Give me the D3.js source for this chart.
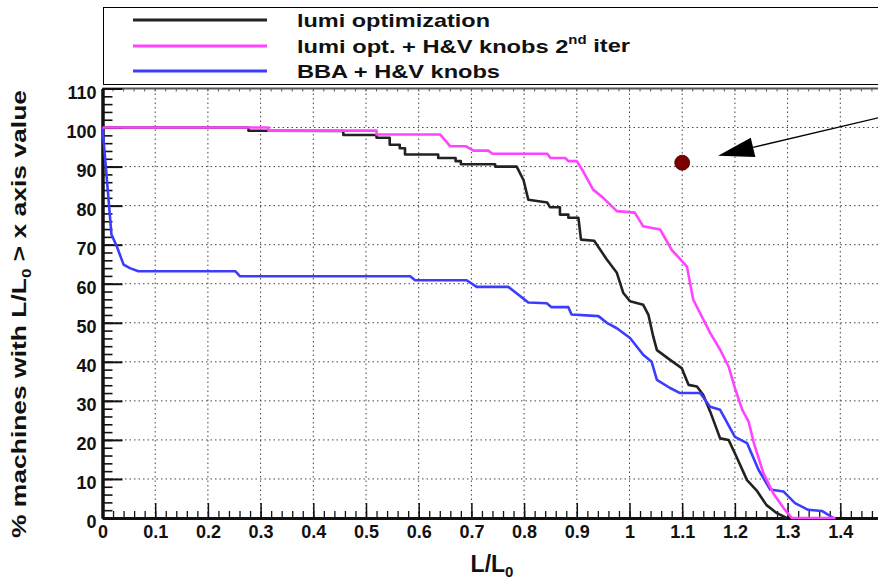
<!DOCTYPE html>
<html>
<head>
<meta charset="utf-8">
<script src="https://cdn.jsdelivr.net/npm/d3@7"></script>
<style>
  body { margin: 0; background: #fff; }
  #plot { width: 878px; height: 583px; overflow: hidden; }
  text { font-family: "Liberation Sans", Arial, sans-serif; font-weight: bold; fill: #111; }
</style>
</head>
<body>
<div id="plot"></div>
<script>
// series: [L/L0, % machines]
const lumiOpt = [
  [0,100],[0.277,100],[0.277,99.2],[0.457,99.1],[0.457,98.1],[0.52,98.1],[0.52,97.4],
  [0.545,97.4],[0.545,95.6],[0.564,95.6],[0.564,94.7],[0.574,94.7],[0.574,93.1],
  [0.637,93.1],[0.637,92.2],[0.67,92.2],[0.67,91.4],[0.68,91.4],[0.68,90.6],
  [0.745,90.6],[0.745,90],[0.786,90],[0.799,86.5],[0.808,81.5],[0.844,80.8],
  [0.849,79.6],[0.868,79.6],[0.868,77.7],[0.884,77.7],[0.884,76.9],[0.903,76.9],
  [0.908,71.3],[0.933,71],[0.957,66.2],[0.976,62.8],[0.988,57.7],[1.001,55.5],
  [1.026,54.6],[1.036,52],[1.045,46.5],[1.052,43],[1.077,40.5],[1.099,38.4],
  [1.112,34.1],[1.128,33.7],[1.14,31.5],[1.153,27.3],[1.172,20.4],[1.188,20],
  [1.203,15.7],[1.223,9.7],[1.241,7.1],[1.26,3.3],[1.279,1.3],[1.298,0]
];
const lumiOptHV = [
  [0,100],[0.315,100],[0.315,99.2],[0.52,99.2],[0.52,98.2],[0.641,98.2],[0.66,95.2],
  [0.69,95.2],[0.704,94.1],[0.732,94.1],[0.74,93.3],[0.844,93.3],[0.85,92.2],
  [0.878,92.2],[0.884,91.4],[0.9,91.4],[0.912,88.8],[0.931,84.1],[0.95,82],
  [0.976,78.6],[1.01,78.2],[1.026,74.7],[1.058,73.9],[1.08,68.7],[1.109,64.4],
  [1.121,55.9],[1.153,47.4],[1.172,43.1],[1.188,38.8],[1.2,33.3],[1.214,27.7],
  [1.226,24.7],[1.236,19.2],[1.254,11.5],[1.273,6.3],[1.292,2.6],[1.308,0],[1.391,0]
];
const bbaHV = [
  [0,100],[0.011,82.4],[0.017,72.6],[0.027,69.6],[0.04,64.9],[0.052,64],[0.068,63.2],
  [0.252,63.2],[0.261,61.9],[0.584,61.9],[0.593,60.9],[0.691,60.9],[0.71,59.2],
  [0.77,59.2],[0.808,55.2],[0.843,55],[0.852,54],[0.884,54],[0.89,52.1],[0.941,51.7],
  [0.957,50],[0.976,48.6],[1.001,46.1],[1.026,41.8],[1.042,40],[1.052,35.4],
  [1.077,33.3],[1.096,32],[1.134,32],[1.153,28.5],[1.172,27.7],[1.2,20.8],
  [1.223,19.2],[1.245,12.3],[1.267,7.3],[1.292,6.8],[1.314,3.8],[1.339,2.1],
  [1.365,1.8],[1.387,0]
];

const xTickValues = [0,0.1,0.2,0.3,0.4,0.5,0.6,0.7,0.8,0.9,1,1.1,1.2,1.3,1.4];
const xTickLabels = ["0","0.1","0.2","0.3","0.4","0.5","0.6","0.7","0.8","0.9","1","1.1","1.2","1.3","1.4"];
const yTickValues = [0,10,20,30,40,50,60,70,80,90,100,110];
const yTickLabels = ["0","10","20","30","40","50","60","70","80","90","100","110"];

const legendNames = ["lumi optimization", "lumi opt. + H&V knobs 2", "BBA + H&V knobs"];
const legendColors = ["#222222", "#ff44ff", "#3c3cff"];

// annotation: the marked point and the arrow pointing at it
const markedPoint = [1.1, 91];
const arrowFrom = [1.475, 102.6];
const arrowTo = [1.168, 92.8];

window.addEventListener("load", main)

function main(){

  const width = 878, height = 583;
  const svg = d3.select("#plot").append("svg")
    .attr("width", width)
    .attr("height", height);

  // scales (plot runs past the right edge, like the original crop)
  const x = d3.scaleLinear().domain([0, 1.5]).range([102.5, 102.5 + 1.5 * 527]);
  const y = d3.scaleLinear().domain([0, 110]).range([518, 88.5]);

  // dotted grid
  const grid = svg.append("g").attr("id", "grid")
    .attr("stroke", "#444").attr("stroke-width", 1).attr("stroke-dasharray", "1.5,3");
  grid.selectAll("line.v")
    .data(d3.range(1, 15).map(i => i / 10))
    .join("line").attr("class", "v")
      .attr("x1", d => x(d)).attr("x2", d => x(d))
      .attr("y1", y(0)).attr("y2", y(110));
  grid.selectAll("line.h")
    .data(yTickValues.slice(1, -1))
    .join("line").attr("class", "h")
      .attr("x1", x(0)).attr("x2", x(1.5))
      .attr("y1", d => y(d)).attr("y2", d => y(d));

  // top frame with small ticks
  svg.append("line")
    .attr("x1", x(0)).attr("x2", x(1.5)).attr("y1", y(110)).attr("y2", y(110))
    .attr("stroke", "#555").attr("stroke-width", 2);
  svg.append("g").selectAll("line")
    .data(d3.range(0, 76).map(i => i * 0.02))
    .join("line")
      .attr("x1", d => x(d)).attr("x2", d => x(d))
      .attr("y1", y(110)).attr("y2", y(110) + 3)
      .attr("stroke", "#555");

  // minor ticks
  svg.append("g")
    .attr("transform", `translate(0,${y(0)})`)
    .call(d3.axisBottom(x).tickValues(d3.range(0, 76).map(i => i * 0.02)).tickSize(-7).tickFormat(""))
    .call(g => g.select(".domain").remove())
    .selectAll("line").attr("stroke", "#111").attr("stroke-width", 1.3);
  svg.append("g")
    .attr("transform", `translate(${x(0)},0)`)
    .call(d3.axisLeft(y).tickValues(d3.range(0, 56).map(i => i * 2)).tickSize(-10).tickFormat(""))
    .call(g => g.select(".domain").remove())
    .selectAll("line").attr("stroke", "#111").attr("stroke-width", 1.6);

  // major ticks + labels
  const xAxis = svg.append("g")
    .attr("transform", `translate(0,${y(0)})`)
    .call(d3.axisBottom(x).tickValues(xTickValues).tickSize(-15).tickSizeOuter(0).tickPadding(7)
      .tickFormat((d, i) => xTickLabels[i]));
  xAxis.select(".domain").attr("stroke", "#111").attr("stroke-width", 3);
  xAxis.selectAll("line").attr("stroke", "#111").attr("stroke-width", 1.5);
  xAxis.selectAll("text").attr("font-size", 18).attr("fill", "#111")
    .attr("font-family", null);

  const yAxis = svg.append("g")
    .attr("transform", `translate(${x(0)},0)`)
    .call(d3.axisLeft(y).tickValues(yTickValues).tickSize(-20).tickSizeOuter(0).tickPadding(6)
      .tickFormat((d, i) => yTickLabels[i]));
  yAxis.select(".domain").attr("stroke", "#111").attr("stroke-width", 3.5);
  yAxis.selectAll("line").attr("stroke", "#111").attr("stroke-width", 2);
  yAxis.selectAll("text").attr("font-size", 18).attr("fill", "#111")
    .attr("font-family", null).attr("dy", "0.55em");

  // curves
  const line = d3.line().x(d => x(d[0])).y(d => y(d[1]));
  const series = [
    { data: lumiOpt, color: legendColors[0] },
    { data: bbaHV, color: legendColors[2] },
    { data: lumiOptHV, color: legendColors[1] }
  ];
  svg.append("g").attr("id", "curves")
    .selectAll("path")
    .data(series)
    .join("path")
      .attr("d", d => line(d.data))
      .attr("fill", "none")
      .attr("stroke", d => d.color)
      .attr("stroke-width", 2.6)
      .attr("stroke-linejoin", "round");

  // marked point and arrow
  svg.append("circle")
    .attr("cx", x(markedPoint[0])).attr("cy", y(markedPoint[1]))
    .attr("r", 7.5).attr("fill", "#7c0000").attr("stroke", "#3a0000").attr("stroke-width", 0.8);

  const ax0 = x(arrowFrom[0]), ay0 = y(arrowFrom[1]);
  const ax1 = x(arrowTo[0]), ay1 = y(arrowTo[1]);
  const ang = Math.atan2(ay1 - ay0, ax1 - ax0);
  const headLen = 36, headHalf = 10;
  const bx = ax1 - headLen * Math.cos(ang), by = ay1 - headLen * Math.sin(ang);
  svg.append("line")
    .attr("x1", ax0).attr("y1", ay0).attr("x2", bx).attr("y2", by)
    .attr("stroke", "#000").attr("stroke-width", 1.3);
  svg.append("path")
    .attr("d", d3.line()([
      [ax1, ay1],
      [bx + headHalf * Math.sin(ang), by - headHalf * Math.cos(ang)],
      [bx - headHalf * Math.sin(ang), by + headHalf * Math.cos(ang)]
    ]) + "Z")
    .attr("fill", "#000");

  // legend box
  const leg = svg.append("g").attr("id", "legend");
  leg.append("rect")
    .attr("x", 103.5).attr("y", 7.5).attr("width", 800).attr("height", 77)
    .attr("fill", "#fff").attr("stroke", "#000").attr("stroke-width", 1);
  const legY = [20, 46, 71];
  const legLen = [193, 333, 203];
  legendNames.forEach((name, i) => {
    leg.append("line")
      .attr("x1", 133).attr("x2", 267).attr("y1", legY[i]).attr("y2", legY[i])
      .attr("stroke", legendColors[i]).attr("stroke-width", 3);
    let t = leg.append("text")
      .attr("x", 297).attr("y", legY[i]).attr("dy", "0.36em")
      .attr("font-size", 19)
      .attr("textLength", legLen[i]).attr("lengthAdjust", "spacingAndGlyphs")
      .text(name);
    if (i === 1) {
      t.append("tspan").attr("font-size", 12).attr("dy", "-0.75em").text("nd");
      t.append("tspan").attr("dy", "0.45em").text(" iter");
    }
  });

  // axis titles
  svg.append("text")
    .attr("transform", "translate(26,314) rotate(-90)")
    .attr("text-anchor", "middle")
    .attr("font-size", 20)
    .attr("textLength", 448).attr("lengthAdjust", "spacingAndGlyphs")
    .call(t => {
      t.append("tspan").text("% machines with L/L");
      t.append("tspan").attr("font-size", 13).attr("dy", 5).text("0");
      t.append("tspan").attr("dy", -5).text(" > x axis value");
    });

  svg.append("text")
    .attr("x", 492).attr("y", 572)
    .attr("text-anchor", "middle")
    .attr("font-size", 23)
    .call(t => {
      t.append("tspan").text("L/L");
      t.append("tspan").attr("font-size", 15).attr("dy", 5).text("0");
    });

} // end of main
</script>
</body>
</html>
